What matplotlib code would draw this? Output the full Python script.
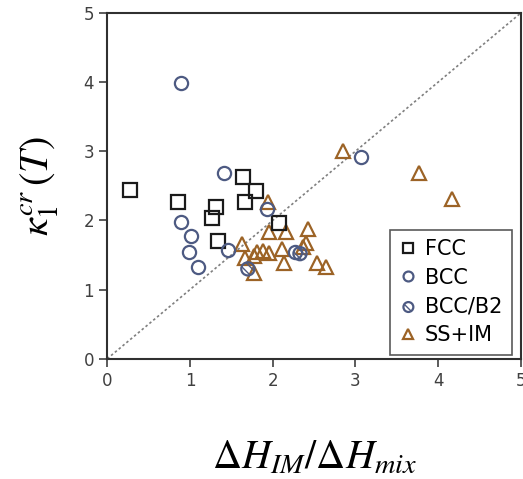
import numpy as np
import matplotlib.pyplot as plt

plt.rcParams['mathtext.fontset'] = 'stix'

# data
fcc_x = [0.28, 0.86, 1.31, 1.27, 1.34, 1.64, 1.67, 1.80, 2.08]
fcc_y = [2.44, 2.27, 2.19, 2.03, 1.70, 2.63, 2.27, 2.42, 1.97]

bcc_x = [0.89, 1.41, 0.89, 1.01, 0.99, 1.10, 1.46, 1.93, 2.27, 3.07]
bcc_y = [3.98, 2.68, 1.98, 1.77, 1.55, 1.33, 1.57, 2.17, 1.55, 2.92]

b2_x = [1.70, 2.33]
b2_y = [1.30, 1.52]

ssim_x = [2.85, 3.77, 4.17, 1.94, 1.95, 2.16, 2.43, 1.63, 2.37, 2.40,
          1.81, 1.88, 1.96, 2.11, 1.66, 1.78, 2.14, 2.54, 2.65, 1.78]
ssim_y = [3.01, 2.68, 2.31, 2.26, 1.83, 1.83, 1.87, 1.66, 1.62, 1.67,
          1.55, 1.56, 1.53, 1.58, 1.46, 1.49, 1.39, 1.39, 1.32, 1.24]

black = '#1a1a1a'
blue = '#4d5a82'
brown = '#9c6326'

fig = plt.figure(figsize=(5.23, 4.79), dpi=100)
ax = fig.add_axes([0.205, 0.251, 0.791, 0.722])

ax.plot([0, 5], [0, 5], linestyle=(0, (1.5, 1.5)), color='#7f7f7f',
        linewidth=1.2, zorder=1)

ms = 9.5
ax.plot(fcc_x, fcc_y, 's', ms=ms, mfc='none', mec=black, mew=1.6,
        label='FCC', zorder=3)
ax.plot(bcc_x, bcc_y, 'o', ms=ms, mfc='none', mec=blue, mew=1.6,
        label='BCC', zorder=3)
ax.scatter(b2_x, b2_y, s=ms ** 2, facecolors='none', edgecolors=blue,
           linewidths=1.6, hatch='\\\\\\\\', label='BCC/B2', zorder=3)
ax.plot(ssim_x, ssim_y, '^', ms=ms + 1, mfc='none', mec=brown, mew=1.6,
        label='SS+IM', zorder=2)

ax.set_xlim(0, 5)
ax.set_ylim(0, 5)
ax.set_xticks(range(6))
ax.set_yticks(range(6))
ax.tick_params(direction='out', length=6, width=1.2, labelsize=12,
               labelcolor='#404040', color='#404040')
for s in ax.spines.values():
    s.set_linewidth(1.5)
    s.set_color('#303030')

ax.set_xlabel(r'$\Delta H_{IM}/\Delta H_{mix}$', fontsize=29, labelpad=34)
ax.set_ylabel(r'$\kappa_1^{cr}\,(T)$', fontsize=29, labelpad=16)

leg = ax.legend(loc='lower right', fontsize=15, frameon=True,
                fancybox=False, edgecolor='#303030', handletextpad=0.35,
                borderpad=0.45, labelspacing=0.42, handlelength=0.9,
                markerscale=0.75, borderaxespad=0,
                bbox_to_anchor=(0.978, 0.012))
leg.get_frame().set_linewidth(1.2)

fig.savefig('out.png', dpi=100)
